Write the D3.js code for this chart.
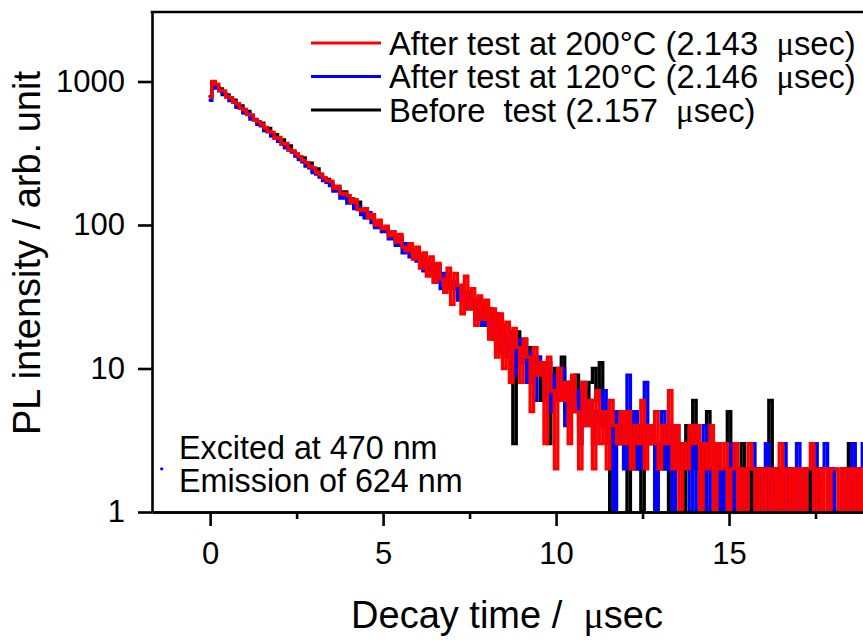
<!DOCTYPE html>
<html>
<head>
<meta charset="utf-8">
<script src="https://cdn.jsdelivr.net/npm/d3@7"></script>
<style>
  body { margin: 0; background: #fff; }
  text { font-family: "Liberation Sans", Arial, sans-serif; fill: #000; }
</style>
</head>
<body>
<div id="chart"></div>
<script>
// decay curves, counts per 0.1 usec channel
const channelStep = 0.1;

const seriesNames = ["After test at 200\u00b0C (2.143  ", "After test at 120\u00b0C (2.146  ", "Before  test (2.157  "];
const seriesColors = ["#ff0000", "#0000ff", "#000000"];

const redStart = 0;
const redCounts = [780,1000,960,868,860,780,772,722,700,650,
  640,588,585,540,526,500,478,450,442,402,
  408,366,370,334,328,312,300,282,272,256,
  250,232,224,214,204,202,180,186,164,166,
  160,144,150,128,126,130,112,118,100,108,
  94,98,84,90,76,86,70,66,74,58,
  70,50,64,44,60,40,54,42,34,50,
  28,46,38,24,44,26,36,20,32,22,
  30,16,26,12,24,10,21,8,19,14,
  8,16,12,5,14,9,11,3,12,7,
  2,10,6,8,3,9,5,2,8,4,
  6,2,7,3,5,2,6,4,3,5,
  3,5,2,4,3,6,2,4,3,5,
  2,4,3,7,2,4,1,3,2,4,
  3,4,1,3,2,4,1,3,2,3,
  1,2,3,1,2,1,3,2,1,2,
  1,2,1,2,1,3,1,2,1,2,
  1,2,1,2,3,1,2,1,2,1,
  2,2,1,2,1,2,1,2,1,2];

const blueStart = -1.7;
const blueCounts = [1,0,0,2,0,0,0,0,0,0,0,0,0,0,0,0,0,
  740,960,900,862,826,785,740,718,660,655,
  604,600,548,545,502,490,462,446,420,404,
  386,366,346,332,322,302,286,276,258,250,
  232,226,216,204,198,188,172,180,154,162,
  142,146,130,134,118,112,122,104,96,104,
  90,94,80,84,72,82,64,74,60,66,
  56,62,48,56,50,40,52,36,46,40,
  36,40,30,36,26,33,28,22,30,20,
  24,18,22,14,20,16,12,18,9,16,
  11,14,8,13,6,12,10,7,11,5,
  9,6,10,4,8,5,7,3,8,4,
  6,3,5,4,7,3,4,1,5,3,
  2,9,3,5,2,4,8,3,4,1,
  3,5,2,4,1,4,2,3,2,1,
  3,1,2,4,1,2,1,3,1,2,
  1,3,1,2,1,1,2,3,1,2,
  1,3,1,2,1,1,3,1,2,1,
  3,1,2,1,1,3,1,2,3,1,
  2,1,1,2,1,1,3,1,2,3];

const blackStart = 0;
const blackCounts = [790,990,920,888,810,808,735,742,668,676,
  608,618,572,540,522,512,455,472,418,426,
  382,392,346,356,326,312,296,294,258,270,
  236,246,226,210,208,196,178,186,162,170,
  150,152,136,144,126,120,114,118,100,104,
  96,92,88,84,78,80,72,68,70,58,
  64,56,58,48,54,46,48,42,44,36,
  40,36,32,38,28,34,26,30,22,28,
  20,26,16,24,13,20,16,12,3,18,
  13,16,8,14,10,12,6,11,3,9,
  10,7,12,5,8,6,9,4,7,5,
  8,10,6,11,5,4,1,5,3,4,
  3,1,5,2,4,1,4,3,3,1,
  3,2,4,1,3,2,3,1,4,2,
  6,2,3,1,5,2,1,3,1,2,
  5,1,2,1,3,1,2,1,2,1,
  2,1,6,1,2,1,1,2,1,1,
  2,1,1,2,1,1,2,1,1,1,
  2,1,1,2,1,3,1,1,2,1];

const xTicks = [0, 5, 10, 15];
const xMinorTicks = [2.5, 7.5, 12.5, 17.5];
const yTicks = [1, 10, 100, 1000];
const notes = ["Excited at 470 nm", "Emission of 624 nm"];

const W = 863, H = 640;
const mLeft = 152, mTop = 12, mBottom = 512, mRight = 902;

const x = d3.scaleLinear().domain([-1.68, 20]).range([mLeft, mRight]);
const y = d3.scaleLog().domain([1, 3050]).range([mBottom, mTop]).clamp(true);

const svg = d3.select("#chart").append("svg")
  .attr("width", W).attr("height", H);

svg.append("defs").append("clipPath").attr("id", "plot")
  .append("rect").attr("x", mLeft).attr("y", mTop)
  .attr("width", mRight - mLeft).attr("height", mBottom - mTop);

function toPoints(start, counts) {
  return counts.map((c, i) => ({t: start + i * channelStep, v: c}));
}

const series = [
  {name: seriesNames[2], color: seriesColors[2], pts: toPoints(blackStart, blackCounts)},
  {name: seriesNames[1], color: seriesColors[1], pts: toPoints(blueStart, blueCounts)},
  {name: seriesNames[0], color: seriesColors[0], pts: toPoints(redStart, redCounts)}
];

const line = d3.line()
  .defined(d => d.v > 0)
  .curve(d3.curveStep)
  .x(d => x(d.t))
  .y(d => y(d.v));

const g = svg.append("g").attr("clip-path", "url(#plot)");
g.selectAll("path").data(series).join("path")
  .attr("d", d => line(d.pts))
  .attr("fill", "none")
  .attr("stroke", d => d.color)
  .attr("stroke-width", 3.3)
  .attr("stroke-linejoin", "miter")
  .attr("stroke-linecap", "round");

// axes
const xAxis = svg.append("g").attr("transform", `translate(0,${mBottom})`)
  .call(d3.axisBottom(x).tickValues(xTicks).tickSize(14).tickPadding(16).tickSizeOuter(0));
const xMinor = svg.append("g").attr("transform", `translate(0,${mBottom})`)
  .call(d3.axisBottom(x).tickValues(xMinorTicks).tickSize(7).tickFormat("").tickSizeOuter(0));
const yAxis = svg.append("g").attr("transform", `translate(${mLeft},0)`)
  .call(d3.axisLeft(y).tickValues(yTicks).tickFormat(d3.format("d")).tickSize(14).tickPadding(13).tickSizeOuter(0));

[xAxis, xMinor, yAxis].forEach(a => {
  a.select(".domain").attr("stroke", "#000").attr("stroke-width", 2.6);
  a.selectAll(".tick line").attr("stroke", "#000").attr("stroke-width", 2.6);
  a.selectAll(".tick text").attr("font-size", 31).attr("font-family", null);
});

// top frame
svg.append("line")
  .attr("x1", mLeft - 1.3).attr("x2", mRight).attr("y1", mTop).attr("y2", mTop)
  .attr("stroke", "#000").attr("stroke-width", 2.6);

// titles
const xt = svg.append("text")
  .attr("x", 507).attr("y", 628).attr("text-anchor", "middle")
  .attr("font-size", 38)
  .style("white-space", "pre")
  .text("Decay time /  ");
xt.append("tspan").attr("font-family", "'Liberation Serif', serif").text("\u03bc");
xt.append("tspan").text("sec");

svg.append("text")
  .attr("transform", "translate(40,253) rotate(-90)")
  .attr("text-anchor", "middle")
  .attr("font-size", 38)
  .text("PL intensity / arb. unit");

// legend
const legendRows = [series[2], series[1], series[0]];
const leg = svg.append("g");
legendRows.forEach((s, i) => {
  const ry = 43 + i * 33.5;
  leg.append("line")
    .attr("x1", 311).attr("x2", 381).attr("y1", ry).attr("y2", ry)
    .attr("stroke", s.color).attr("stroke-width", 3);
  const t = leg.append("text")
    .attr("x", 389).attr("y", ry + 11.5)
    .attr("font-size", 32.7)
    .style("white-space", "pre")
    .text(s.name);
  t.append("tspan").attr("font-family", "'Liberation Serif', serif").text("\u03bc");
  t.append("tspan").text("sec)");
});

// annotation
notes.forEach((n, i) => {
  svg.append("text")
    .attr("x", 179).attr("y", 459 + i * 32.7)
    .attr("font-size", 32.3)
    .text(n);
});
</script>
</body>
</html>
